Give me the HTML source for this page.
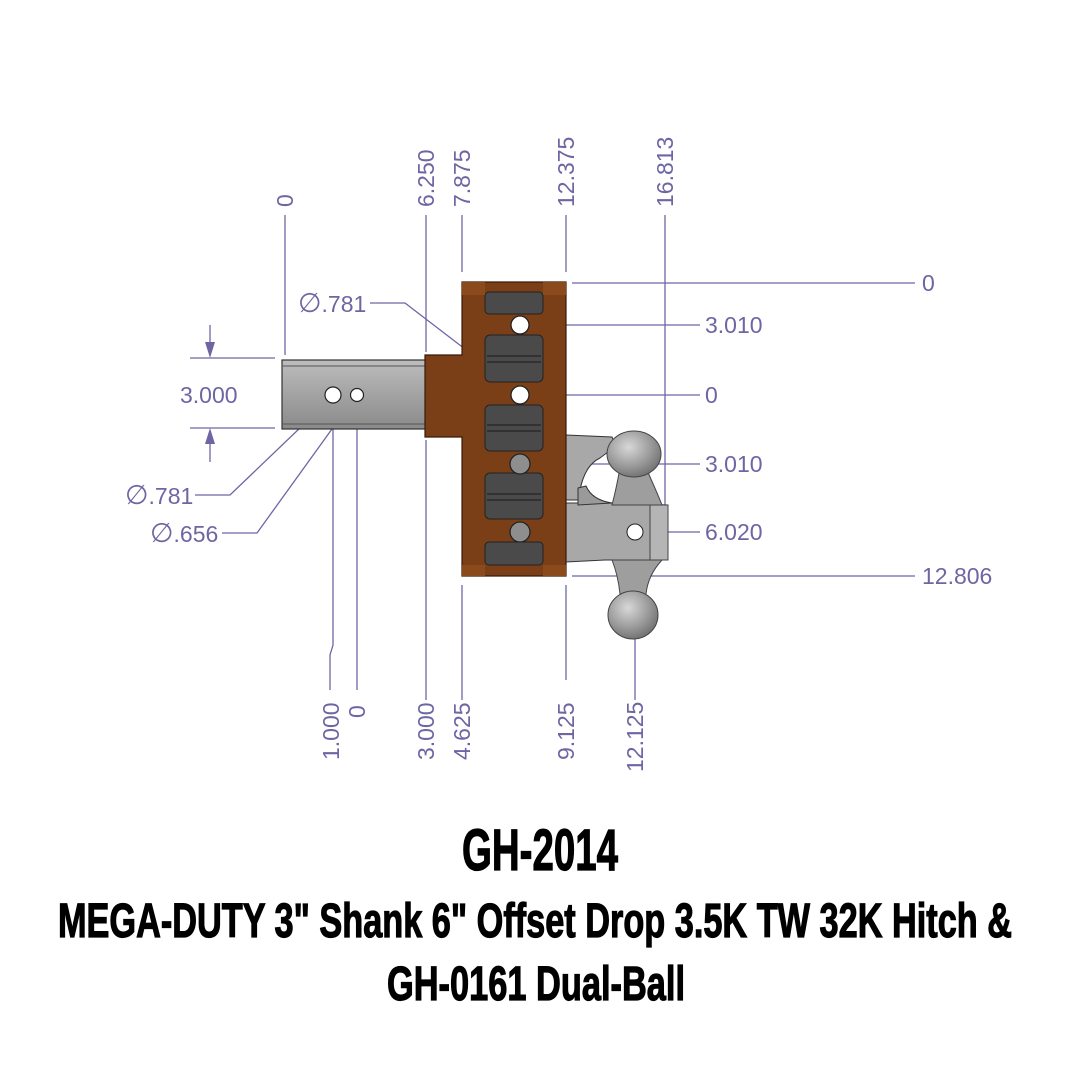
<!DOCTYPE html>
<html><head><meta charset="utf-8"><style>
html,body{margin:0;padding:0;background:#fff;}
svg{display:block;}
.d{font-family:"Liberation Sans",sans-serif;font-size:23px;fill:#6d66a3;}
.t{font-family:"Liberation Sans Narrow","Liberation Sans",sans-serif;font-weight:bold;fill:#000;stroke:#000;stroke-width:1.2;}
</style></head><body>
<svg width="1080" height="1080" viewBox="0 0 1080 1080" xmlns="http://www.w3.org/2000/svg">
<defs>
<radialGradient id="ball" cx="0.4" cy="0.35" r="0.7"><stop offset="0" stop-color="#d8d8d8"/><stop offset="0.6" stop-color="#9a9a9a"/><stop offset="1" stop-color="#6e6e6e"/></radialGradient>
<linearGradient id="sh" x1="0" y1="0" x2="0" y2="1"><stop offset="0" stop-color="#bdbdbd"/><stop offset="0.5" stop-color="#a3a3a3"/><stop offset="1" stop-color="#8a8a8a"/></linearGradient>
</defs>
<rect width="1080" height="1080" fill="#fff"/>
<g stroke="#6d66a3" stroke-width="1.3" fill="none">
<line x1="285" y1="215" x2="285" y2="355"/>
<line x1="426" y1="215" x2="426" y2="352"/>
<line x1="462" y1="215" x2="462" y2="272"/>
<line x1="566" y1="215" x2="566" y2="272"/>
<line x1="665" y1="215" x2="665" y2="505"/>
<line x1="426" y1="440" x2="426" y2="700"/>
<line x1="462" y1="585" x2="462" y2="700"/>
<line x1="566" y1="585" x2="566" y2="680"/>
<line x1="635" y1="535" x2="635" y2="700"/>
<polyline points="333,397 333,645 330,655 330,690"/>
<line x1="357" y1="397" x2="357" y2="690"/>
<line x1="572" y1="283" x2="915" y2="283"/>
<line x1="528" y1="325" x2="700" y2="325"/>
<line x1="528" y1="395" x2="700" y2="395"/>
<line x1="528" y1="464" x2="700" y2="464"/>
<line x1="528" y1="532" x2="700" y2="532"/>
<line x1="572" y1="576" x2="915" y2="576"/>
<line x1="190" y1="358" x2="275" y2="358"/>
<line x1="190" y1="428" x2="275" y2="428"/>
<line x1="210" y1="325" x2="210" y2="350"/>
<line x1="210" y1="436" x2="210" y2="462"/>
<polyline points="195,495 230,495 325,404"/>
<polyline points="222,533 257,533 350,404"/>
<polyline points="370,303 405,303 508,382"/>
</g>
<g fill="#6d66a3">
<polygon points="210,358 205,342 215,342"/>
<polygon points="210,428 205,444 215,444"/>
<polygon points="328,401 314,408 320,414"/>
<polygon points="353,401 340,409 346,414"/>
<polygon points="512,386 498,378 502,372"/>
</g>
<rect x="282" y="360" width="144" height="69" fill="url(#sh)" stroke="#333" stroke-width="1.2"/>
<line x1="283" y1="366" x2="425" y2="366" stroke="#555"/>
<line x1="283" y1="424" x2="425" y2="424" stroke="#555"/>
<circle cx="333" cy="395" r="8" fill="#fff" stroke="#222" stroke-width="1.2"/>
<circle cx="357" cy="395" r="6.5" fill="#fff" stroke="#222" stroke-width="1.2"/>
<path d="M566,435 L612,437 L616,446 L600,458 Q585,465 580,490 L578,500 L566,500 Z" fill="#a8a8a8" stroke="#333"/>
<path d="M566,503 L620,503 L668,505 L668,560 L620,560 L605,560 L566,562 Z" fill="#a8a8a8" stroke="#333"/>
<rect x="650" y="505" width="18" height="55" fill="#b5b5b5" stroke="#444"/>
<path d="M578,488 L586,486 Q592,500 612,503 L578,505 Z" fill="#9a9a9a" stroke="#333"/>
<path d="M620,468 L646,468 Q656,490 662,505 L612,505 Q616,490 620,468 Z" fill="#9e9e9e" stroke="#444"/>
<path d="M612,560 L662,560 Q648,575 646,594 L620,594 Q618,575 612,560 Z" fill="#9e9e9e" stroke="#444"/>
<ellipse cx="634" cy="454" rx="27" ry="23" fill="url(#ball)" stroke="#444"/>
<ellipse cx="633" cy="615" rx="25" ry="24" fill="url(#ball)" stroke="#444"/>
<circle cx="635" cy="532" r="8" fill="#fff" stroke="#222"/>
<path d="M425,355 L462,355 L462,282 L566,282 L566,576 L462,576 L462,437 L425,437 Z" fill="#7a3f17" stroke="#3a1a08" stroke-width="1.2"/>
<g fill="#4a4a4a" stroke="#222">
<rect x="485" y="292" width="58" height="22" rx="4"/>
<rect x="485" y="335" width="58" height="47" rx="5"/>
<rect x="485" y="405" width="58" height="46" rx="5"/>
<rect x="485" y="473" width="58" height="46" rx="5"/>
<rect x="485" y="542" width="58" height="23" rx="4"/>
</g>
<g stroke="#2b2b2b" stroke-width="1.5">
<line x1="487" y1="356" x2="541" y2="356"/><line x1="487" y1="362" x2="541" y2="362"/>
<line x1="487" y1="425" x2="541" y2="425"/><line x1="487" y1="431" x2="541" y2="431"/>
<line x1="487" y1="494" x2="541" y2="494"/><line x1="487" y1="500" x2="541" y2="500"/>
</g>
<rect x="462" y="282" width="23" height="13" fill="#8a4a1c"/>
<rect x="543" y="282" width="23" height="13" fill="#8a4a1c"/>
<rect x="462" y="565" width="23" height="11" fill="#8a4a1c"/>
<rect x="543" y="565" width="23" height="11" fill="#8a4a1c"/>
<circle cx="520" cy="325" r="9" fill="#fff" stroke="#222" stroke-width="1.3"/>
<circle cx="520" cy="395" r="9" fill="#fff" stroke="#222" stroke-width="1.3"/>
<circle cx="520" cy="464" r="10" fill="#8e8e8e" stroke="#222" stroke-width="1.3"/>
<circle cx="520" cy="532" r="10" fill="#8e8e8e" stroke="#222" stroke-width="1.3"/>
<g class="d">
<text x="922" y="291">0</text>
<text x="922" y="584">12.806</text>
<text x="705" y="333">3.010</text>
<text x="705" y="403">0</text>
<text x="705" y="472">3.010</text>
<text x="705" y="540">6.020</text>
<text x="180" y="403">3.000</text>
<text x="125" y="504"><tspan font-size="27">∅</tspan>.781</text>
<text x="150" y="542"><tspan font-size="27">∅</tspan>.656</text>
<text x="298" y="312"><tspan font-size="27">∅</tspan>.781</text>
<text transform="translate(293,207) rotate(-90)">0</text>
<text transform="translate(434,207) rotate(-90)">6.250</text>
<text transform="translate(470,207) rotate(-90)">7.875</text>
<text transform="translate(574,207) rotate(-90)">12.375</text>
<text transform="translate(673,207) rotate(-90)">16.813</text>
<text transform="translate(339,760) rotate(-90)">1.000</text>
<text transform="translate(365,718) rotate(-90)">0</text>
<text transform="translate(434,760) rotate(-90)">3.000</text>
<text transform="translate(470,760) rotate(-90)">4.625</text>
<text transform="translate(574,760) rotate(-90)">9.125</text>
<text transform="translate(643,772) rotate(-90)">12.125</text>
</g>
<text class="t" x="462" y="870" font-size="58" textLength="156" lengthAdjust="spacingAndGlyphs">GH-2014</text>
<text class="t" x="58" y="937" font-size="48" textLength="954" lengthAdjust="spacingAndGlyphs">MEGA-DUTY 3" Shank 6" Offset Drop 3.5K TW 32K Hitch &amp;</text>
<text class="t" x="387" y="1000" font-size="48" textLength="298" lengthAdjust="spacingAndGlyphs">GH-0161 Dual-Ball</text>
</svg>
</body></html>
